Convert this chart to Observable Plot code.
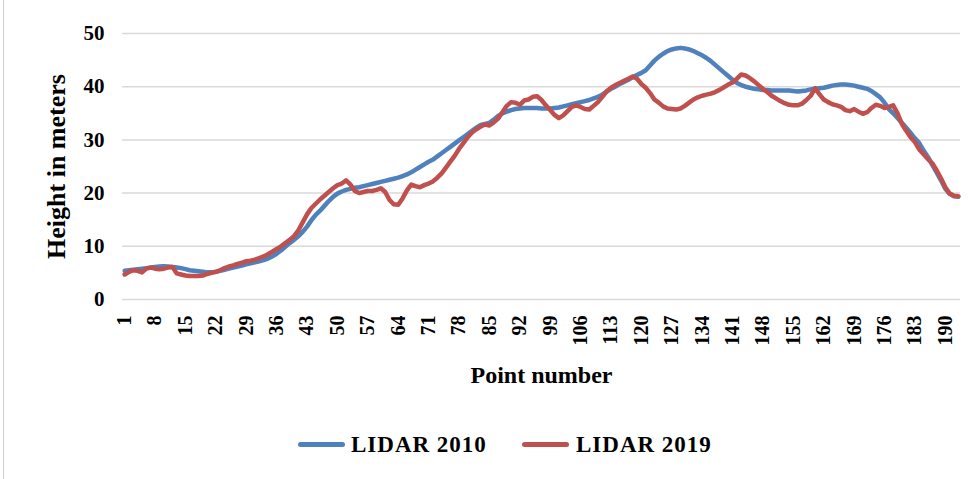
<!DOCTYPE html>
<html>
<head>
<meta charset="utf-8">
<script src="https://cdn.jsdelivr.net/npm/d3@7"></script>
<script src="https://cdn.jsdelivr.net/npm/@observablehq/plot@0.6"></script>
<style>
  html, body { margin: 0; padding: 0; background: #fff; }
  #wrap { position: relative; width: 977px; height: 479px; overflow: hidden; font-family: "Liberation Serif", "Times New Roman", serif; }
  #frame { position: absolute; left: 3px; top: 0; width: 0; height: 479px; border-left: 1px solid #d0d0d0; }
  .sw { position: absolute; height: 5px; border-radius: 3px; }
  .lt { position: absolute; font-weight: bold; font-size: 23px; line-height: 23px; letter-spacing: 1px; color: #000; white-space: nowrap; }
</style>
</head>
<body>
<div id="wrap">
  <div id="chart"></div>
  <div id="frame"></div>
  <div id="legend"></div>
</div>
<script>
// ---- data ----
const seriesNames = ["LIDAR 2010", "LIDAR 2019"];
const seriesColors = ["#4F81BD", "#C0504D"];
const xTickLabels = [1, 8, 15, 22, 29, 36, 43, 50, 57, 64, 71, 78, 85, 92, 99, 106, 113, 120, 127, 134, 141, 148, 155, 162, 169, 176, 183, 190];
const yTickLabels = [0, 10, 20, 30, 40, 50];
const lidar2010 = [
  5.4,5.5,5.6,5.7,5.8,5.9,6.0,6.1,6.2,6.25,
  6.2,6.1,6.0,5.9,5.7,5.5,5.4,5.3,5.2,5.1,
  5.1,5.2,5.4,5.6,5.8,6.0,6.2,6.4,6.6,6.8,
  7.0,7.2,7.4,7.7,8.1,8.6,9.2,9.9,10.6,11.2,
  11.9,12.7,13.7,14.9,15.9,16.7,17.6,18.5,19.3,19.9,
  20.3,20.6,20.8,21.0,21.1,21.3,21.5,21.7,21.9,22.1,
  22.3,22.5,22.7,22.9,23.2,23.5,23.9,24.4,24.9,25.4,
  25.9,26.3,26.9,27.5,28.1,28.7,29.3,29.9,30.5,31.1,
  31.7,32.3,32.8,33.0,33.2,33.8,34.5,35.0,35.3,35.6,
  35.8,35.9,36.0,36.0,36.0,36.0,35.9,35.9,35.9,36.0,
  36.1,36.3,36.5,36.7,36.9,37.1,37.3,37.5,37.8,38.1,
  38.5,39.1,39.6,40.0,40.5,40.9,41.3,41.8,42.2,42.6,
  43.1,44.0,44.9,45.6,46.2,46.7,47.0,47.2,47.3,47.2,
  47.0,46.7,46.3,45.9,45.4,44.8,44.1,43.4,42.7,42.0,
  41.3,40.7,40.3,40.0,39.8,39.6,39.5,39.4,39.4,39.3,
  39.3,39.3,39.3,39.3,39.2,39.1,39.2,39.3,39.5,39.6,
  39.7,39.8,40.0,40.2,40.3,40.4,40.4,40.3,40.2,40.0,
  39.8,39.6,39.2,38.6,38.0,37.0,35.8,35.0,34.1,33.2,
  32.3,31.3,30.3,29.4,28.0,26.8,25.3,23.9,22.4,20.8,
  19.9,19.4,19.3
];
const lidar2019 = [
  4.7,5.2,5.5,5.4,5.1,5.8,6.0,5.8,5.7,5.8,
  6.0,6.1,4.9,4.7,4.5,4.4,4.4,4.4,4.5,4.8,
  5.0,5.2,5.5,5.9,6.2,6.4,6.7,6.9,7.2,7.3,
  7.5,7.8,8.1,8.5,9.0,9.5,10.0,10.6,11.2,11.9,
  13.0,14.5,16.0,17.2,18.0,18.8,19.5,20.2,20.9,21.5,
  21.8,22.4,21.6,20.4,20.0,20.2,20.4,20.4,20.6,20.9,
  20.2,18.7,17.9,17.8,19.0,20.5,21.6,21.3,21.1,21.5,
  21.8,22.2,22.9,23.7,24.8,25.9,27.0,28.3,29.4,30.5,
  31.4,32.0,32.5,32.9,32.7,33.3,34.0,35.2,36.4,37.1,
  37.0,36.6,37.4,37.6,38.1,38.2,37.5,36.5,35.6,34.7,
  34.1,34.6,35.4,36.2,36.5,36.2,35.8,35.7,36.4,37.1,
  38.1,39.1,39.8,40.3,40.7,41.1,41.5,41.9,41.5,40.5,
  39.8,38.8,37.6,37.0,36.3,35.9,35.8,35.7,35.9,36.4,
  37.0,37.6,38.0,38.3,38.5,38.7,39.0,39.4,39.9,40.4,
  40.8,41.5,42.3,42.1,41.6,41.0,40.3,39.6,39.0,38.3,
  37.8,37.3,36.9,36.6,36.5,36.5,36.8,37.5,38.3,39.7,
  38.6,37.6,37.1,36.7,36.5,36.2,35.6,35.4,35.8,35.3,
  34.9,35.2,36.0,36.6,36.4,36.0,36.2,36.5,35.0,33.0,
  31.7,30.5,29.6,28.2,27.3,26.4,25.6,24.3,22.8,21.1,
  19.9,19.5,19.4
];

// ---- build rows ----
const rows2010 = lidar2010.map((h, i) => ({point: i + 1, h}));
const rows2019 = lidar2019.map((h, i) => ({point: i + 1, h}));
const nPoints = lidar2010.length;

const chart = Plot.plot({
  width: 977,
  height: 410,
  marginLeft: 122,
  marginRight: 17,
  marginTop: 33,
  marginBottom: 111,
  style: {fontFamily: "'Liberation Serif', 'Times New Roman', serif", fontWeight: "bold", fontSize: "20px", color: "#000", background: "transparent"},
  x: {domain: [0.5, nPoints + 0.5]},
  y: {domain: [0, 50]},
  marks: [
    Plot.gridY(yTickLabels, {stroke: "#d9d9d9", strokeOpacity: 1, strokeWidth: 1.5}),
    Plot.axisY({ticks: yTickLabels, tickSize: 0, tickPadding: 18, label: null, fontSize: 21, fontWeight: "bold"}),
    Plot.axisX({ticks: xTickLabels, tickSize: 0, tickPadding: 16, tickRotate: -90, label: null, fontSize: 20, fontWeight: "bold"}),
    Plot.line(rows2010, {x: "point", y: "h", stroke: seriesColors[0], strokeWidth: 4.5, strokeLinejoin: "round", strokeLinecap: "round"}),
    Plot.line(rows2019, {x: "point", y: "h", stroke: seriesColors[1], strokeWidth: 4.5, strokeLinejoin: "round", strokeLinecap: "round"}),
    Plot.text(["Height in meters"], {frameAnchor: "left", rotate: -90, dx: -66, fontSize: 26, fontWeight: "bold", textAnchor: "middle", lineAnchor: "middle", fill: "#000"}),
    Plot.text(["Point number"], {frameAnchor: "bottom", dy: 76, fontSize: 24, fontWeight: "bold", textAnchor: "middle", lineAnchor: "middle", fill: "#000", letterSpacing: "0.8px"})
  ]
});
document.getElementById("chart").appendChild(chart);

// ---- legend (below the svg) ----
const legend = document.getElementById("legend");
const legendItems = [
  {swLeft: 298, textLeft: 351},
  {swLeft: 522, textLeft: 576}
];
seriesNames.forEach((name, i) => {
  const sw = document.createElement("div");
  sw.className = "sw";
  sw.style.left = legendItems[i].swLeft + "px";
  sw.style.top = "442px";
  sw.style.width = "47px";
  sw.style.background = seriesColors[i];
  legend.appendChild(sw);
  const t = document.createElement("div");
  t.className = "lt";
  t.style.left = legendItems[i].textLeft + "px";
  t.style.top = "433px";
  t.textContent = name;
  legend.appendChild(t);
});
</script>
</body>
</html>
